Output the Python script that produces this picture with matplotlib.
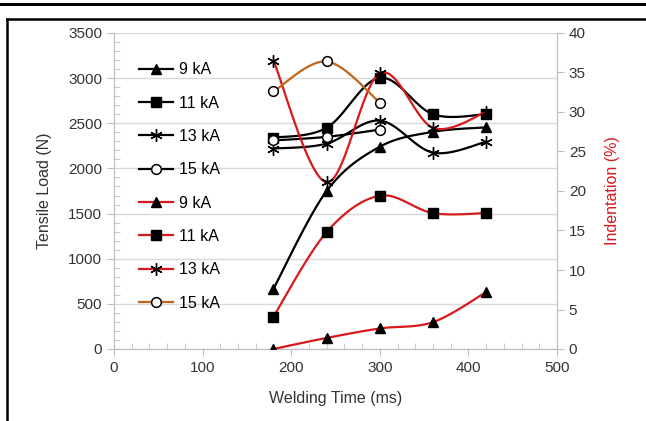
import numpy as np
import matplotlib
matplotlib.use("Agg")
import matplotlib.pyplot as plt
from matplotlib.lines import Line2D
from matplotlib.patches import Rectangle

plt.rcParams["font.family"] = ["Liberation Sans", "DejaVu Sans"]

# welding time (ms)
time_ms = [180, 240, 300, 360, 420]
time_15 = [180, 240, 300]

# tensile load (N)
load_9 = [667, 1750, 2240, 2405, 2455]
load_11 = [2340, 2450, 3005, 2600, 2600]
load_13 = [2220, 2275, 2530, 2175, 2295]
load_15 = [2310, 2350, 2430]

# indentation (%)
ind_9 = [0.0, 1.4, 2.6, 3.4, 7.2]
ind_11 = [4.1, 14.8, 19.4, 17.2, 17.2]
ind_13 = [36.5, 21.1, 34.9, 28.0, 30.0]
ind_15 = [32.6, 36.4, 31.2]

labels = ["9 kA", "11 kA", "13 kA", "15 kA"]
markers = ["^", "s", "x", "o"]

RED = "#d7191c"
BROWN = "#c0651a"


def smooth(x, y, n=30):
    """Catmull-Rom curve like Excel's smoothed line"""
    x = np.asarray(x, float)
    y = np.asarray(y, float)
    px = np.concatenate([[x[0]], x, [x[-1]]])
    py = np.concatenate([[y[0]], y, [y[-1]]])
    xs, ys = [], []
    t = np.linspace(0, 1, n)
    for i in range(1, len(px) - 2):
        p0, p1, p2, p3 = (np.array([px[j], py[j]]) for j in range(i - 1, i + 3))
        c1 = p1 + (p2 - p0) / 6
        c2 = p2 - (p3 - p1) / 6
        b = ((1 - t) ** 3)[:, None] * p1 + (3 * (1 - t) ** 2 * t)[:, None] * c1 \
            + (3 * (1 - t) * t ** 2)[:, None] * c2 + (t ** 3)[:, None] * p2
        xs.extend(b[:, 0])
        ys.extend(b[:, 1])
    return xs, ys


def draw(ax, x, y, color, marker):
    sx, sy = smooth(x, y)
    ax.plot(sx, sy, color=color, lw=1.6, zorder=3)
    if marker == "o":
        ax.plot(x, y, ls="none", marker="o", ms=7, mfc="white", mec="black",
                mew=1.1, zorder=4)
    elif marker == "x":
        ax.plot(x, y, ls="none", marker=(6, 2, 0), ms=9, mec="black",
                mew=1.0, zorder=4)
    else:
        ax.plot(x, y, ls="none", marker=marker, ms=7.5, mfc="black",
                mec="black", zorder=4)


fig = plt.figure(figsize=(6.46, 4.21), dpi=100)
fig.patches.append(Rectangle((0, 1 - 6 / 421), 1, 2.5 / 421, transform=fig.transFigure,
                             color="black", lw=0))
fig.add_artist(Line2D([7 / 646, 7 / 646], [0, 1 - 19 / 421], color="black", lw=1.8))
fig.add_artist(Line2D([7 / 646, 1], [1 - 19 / 421, 1 - 19 / 421], color="black", lw=1.8))

ax = fig.add_axes([114 / 646, 72 / 421, 443 / 646, 316 / 421])
ax2 = ax.twinx()

for ys, m in zip([load_9, load_11, load_13], markers[:3]):
    draw(ax, time_ms, ys, "black", m)
draw(ax, time_15, load_15, "black", "o")

for ys, m in zip([ind_9, ind_11, ind_13], markers[:3]):
    draw(ax2, time_ms, ys, RED, m)
draw(ax2, time_15, ind_15, BROWN, "o")

ax.set_xlim(0, 500)
ax.set_ylim(0, 3500)
ax2.set_ylim(0, 40)
ax.set_xticks(range(0, 501, 100))
ax.set_xticks(range(0, 501, 20), minor=True)
ax.set_yticks(range(0, 3501, 500))
ax.set_yticks(range(0, 3501, 100), minor=True)
ax2.set_yticks(range(0, 41, 5))

ax.grid(axis="y", color="#d9d9d9", lw=1)
ax.set_axisbelow(True)
for a in (ax, ax2):
    for s in a.spines.values():
        s.set_color("#bfbfbf")
    a.spines["top"].set_visible(False)
ax.tick_params(which="major", length=5, color="#bfbfbf", labelsize=11,
               labelcolor="#333333", direction="out")
ax.tick_params(which="minor", length=4, color="#bfbfbf", direction="in")
ax2.tick_params(length=5, color="#bfbfbf", labelsize=11, labelcolor="#333333")

ax.set_xlabel("Welding Time (ms)", fontsize=11.5, color="#333333", labelpad=12)
ax.set_ylabel("Tensile Load (N)", fontsize=11.5, color="#333333", labelpad=12)
ax2.set_ylabel("Indentation (%)", fontsize=11.5, color=RED, labelpad=14)


def handle(color, marker):
    if marker == "o":
        return Line2D([], [], color=color, lw=1.6, marker="o", ms=7, mfc="white",
                      mec="black", mew=1.1)
    if marker == "x":
        return Line2D([], [], color=color, lw=1.6, marker=(6, 2, 0), ms=9,
                      mec="black", mew=1.0)
    return Line2D([], [], color=color, lw=1.6, marker=marker, ms=7.5,
                  mfc="black", mec="black")


handles = [handle("black", m) for m in markers]
handles += [handle(c, m) for c, m in zip([RED, RED, RED, BROWN], markers)]
ax2.legend(handles, labels + labels, loc="upper left", bbox_to_anchor=(0.042, 0.928),
           frameon=False, fontsize=11.5, handlelength=2.1, handletextpad=0.4,
           labelspacing=1.15, borderaxespad=0)

fig.savefig("out.png", dpi=100)
